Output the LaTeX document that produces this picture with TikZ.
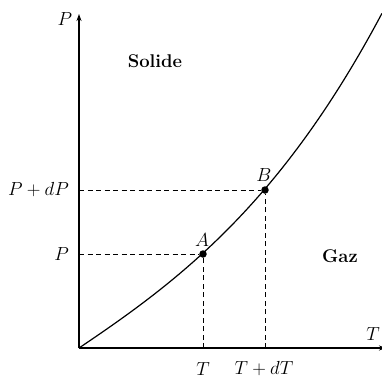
\RequirePackage{fix-cm}
\documentclass[tikz,border=0pt]{standalone}
\usetikzlibrary{arrows.meta}
\begin{document}
\begin{tikzpicture}[x=1bp,y=-1bp,
  lbl/.style={font=\fontsize{19}{22}\selectfont, inner sep=0pt},
  reg/.style={font=\fontsize{18.5}{22}\selectfont\bfseries, inner sep=0pt},
  axis/.style={line width=1.3bp,-{Stealth[length=7bp,width=5bp]}},
  guide/.style={dashed, line width=1bp, dash pattern=on 5bp off 3.5bp},
  dot/.style={circle, fill=black, inner sep=0pt, minimum size=7.5bp}]
\useasboundingbox (0,0) rectangle (382,382);
\coordinate (O) at (79,348);
\coordinate (Ytop) at (79,14);
\coordinate (Xend) at (386,348);
\draw[axis] (O) -- (Ytop);
\draw[axis] (O) -- (Xend);
% curve y = 67.16 t + 2.91 t^2 + 3.757 t^3, t = dx/100
\draw[line width=1.2bp] plot[domain=0:3.03, samples=80, variable=\t]
  ({79+100*\t}, {348-(67.16*\t+2.91*\t*\t+3.757*\t*\t*\t)});
\node[dot] (A) at (203,254) {};
\node[dot] (B) at (265,190) {};
\coordinate (Ax) at (203,348);
\coordinate (Ay) at (79,254);
\coordinate (Bx) at (265,348);
\coordinate (By) at (79,190);
\draw[guide] (Ay) -- (A);
\draw[guide] (Ax) -- (A);
\draw[guide] (By) -- (B);
\draw[guide] (Bx) -- (B);
\node[lbl] (lA) at (202,240) {$A$};
\node[lbl] (lB) at (264,175) {$B$};
\node[lbl, anchor=east] (lP) at (69,254) {$P$};
\node[lbl, anchor=east] (lPdP) at (69,190) {$P+dP$};
\node[lbl] (lT) at (203,369) {$T$};
\node[lbl] (lTdT) at (264,369) {$T+dT$};
\node[lbl] (axP) at (65,19) {$P$};
\node[lbl] (axT) at (373,334) {$T$};
\node[reg] (sol) at (155,61) {Solide};
\node[reg] (gaz) at (340,256) {Gaz};
\end{tikzpicture}
\end{document}
